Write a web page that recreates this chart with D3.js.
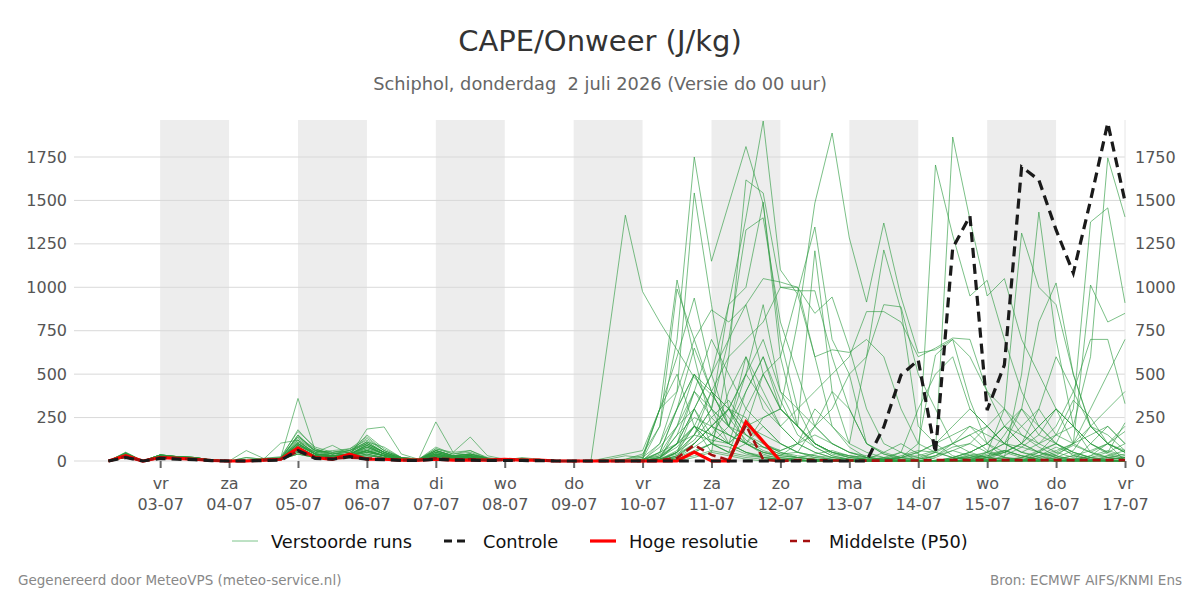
<!DOCTYPE html>
<html>
<head>
<meta charset="utf-8">
<script src="https://cdn.jsdelivr.net/npm/d3@7"></script>
<style>
  body { margin: 0; background: #fff; }
  svg { font-family: "DejaVu Sans", sans-serif; }
</style>
</head>
<body>
<div id="chart"></div>
<script>
// time axis: 6-hourly steps from 2 July 06 UTC
const startTime = Date.UTC(2026, 6, 2, 6);
const stepHours = 6;

const dayTicks = ["2026-07-03","2026-07-04","2026-07-05","2026-07-06","2026-07-07","2026-07-08","2026-07-09",
  "2026-07-10","2026-07-11","2026-07-12","2026-07-13","2026-07-14","2026-07-15","2026-07-16","2026-07-17"];
const dayNames = ["vr","za","zo","ma","di","wo","do","vr","za","zo","ma","di","wo","do","vr"];
const dayLabels = ["03-07","04-07","05-07","06-07","07-07","08-07","09-07","10-07","11-07","12-07","13-07","14-07","15-07","16-07","17-07"];
const shadedDays = [["2026-07-03","2026-07-04"],["2026-07-05","2026-07-06"],["2026-07-07","2026-07-08"],
  ["2026-07-09","2026-07-10"],["2026-07-11","2026-07-12"],["2026-07-13","2026-07-14"],["2026-07-15","2026-07-16"]];
const yTicks = [0, 250, 500, 750, 1000, 1250, 1500, 1750];

// control run
const controle = [0,20,0,15,10,8,2,0,0,3, 5,60,15,10,25,10,8,3,3,10, 5,5,3,3,3,2,0,0,0,0,
  0,0,0,0,0,0,0,0,0,0, 0,0,0,0,0,196,495,581,46,1226, 1410,293,553,1693,1618,1330,1082,1500,1946,1495];
// high resolution run (until 12-07)
const hogeResolutie = [0,30,0,20,15,10,3,0,0,5, 10,75,20,10,40,10,10,5,5,10, 5,5,5,10,5,5,0,0,0,0,
  0,0,0,0,52,0,0,225,112,0];
// median
const p50 = [0,25,0,20,15,10,3,0,0,5, 10,55,20,15,20,15,10,5,5,15, 10,10,5,5,5,5,0,0,0,0,
  0,0,5,17,92,35,5,207,8,0, 5,5,3,3,2,2,3,3,5,5, 5,5,5,5,5,5,5,5,5,5];

// perturbed members
const m01 = [0,40,0,30,20,15,5,0,0,10, 20,360,60,30,40,60,30,10,5,40, 20,30,10,5,10,5,0,0,0,700, 1415,975,800,640,480,380,250,120,60,30, 20,10,5,5,0,0,0,0,0,10, 30,20,10,5,0,0,10,5,0,0];
const m02 = [0,30,0,25,20,15,5,0,0,5, 10,120,40,25,30,80,40,10,5,30, 15,20,10,5,5,5,0,0,0,0, 10,40,200,700,1750,1150,1480,1810,1480,700, 300,100,40,20,10,0,0,0,20,60, 30,10,0,0,10,40,90,50,20,10];
const m03 = [0,50,0,35,25,20,5,0,0,10, 15,180,70,40,60,130,60,20,10,60, 30,40,15,5,10,5,0,0,0,0, 5,20,100,300,500,300,900,1400,1957,1100, 960,600,200,80,20,10,0,0,30,100, 150,60,20,0,0,20,60,200,150,60];
const m04 = [0,35,0,30,20,15,5,0,0,5, 10,150,50,30,30,100,50,15,5,50, 25,30,10,5,5,5,0,0,0,5, 10,30,300,400,1543,900,300,100,40,10, 5,0,0,0,10,50,100,40,10,0, 0,20,150,300,200,100,30,10,5,0];
const m05 = [0,25,0,30,20,15,5,0,0,5, 10,90,40,20,30,184,196,40,10,40, 20,30,10,5,5,5,0,0,0,0, 0,10,50,100,200,50,600,1618,1543,1000, 980,980,600,300,100,40,20,0,0,20, 50,100,200,150,80,30,0,0,10,20];
const m06 = [0,40,0,30,25,20,5,0,0,10, 10,110,50,90,40,150,70,20,10,225, 50,138,30,10,10,5,0,0,0,0, 0,0,20,150,400,300,700,1330,1400,800, 500,200,100,50,20,10,0,0,0,0, 10,40,60,30,10,0,0,30,100,60];
const m07 = [0,30,0,25,20,15,5,0,0,5, 10,70,30,20,25,50,30,10,5,30, 15,20,10,5,5,5,0,0,0,0, 0,5,80,200,300,500,900,1000,1490,600, 200,80,30,10,0,0,0,0,0,10, 20,10,0,0,0,10,30,10,0,0];
const m08 = [0,45,0,35,25,20,5,0,0,15, 20,140,70,40,60,100,50,15,5,70, 40,50,15,5,10,5,0,0,0,10, 30,20,300,600,938,500,200,400,600,350, 150,80,30,10,0,0,0,10,50,20, 0,0,30,80,150,300,200,100,40,10];
const m09 = [0,35,0,30,20,15,5,0,0,10, 15,100,40,30,40,80,40,10,5,40, 20,30,10,5,10,5,0,0,0,0, 0,10,30,100,300,150,100,200,250,300, 800,1485,1888,1284,915,1370,944,622,640,700, 350,100,50,20,10,0,0,0,10,20];
const m10 = [0,30,0,25,20,15,5,0,0,5, 10,80,30,20,30,60,30,10,5,30, 15,20,10,5,5,5,0,0,0,0, 0,0,10,50,120,250,350,200,500,600, 970,1347,700,500,100,40,10,0,0,0, 0,20,60,30,10,0,0,0,20,40];
const m11 = [0,40,0,30,20,15,5,0,0,5, 10,120,40,30,40,90,50,15,5,50, 25,30,10,5,5,5,0,0,0,0, 0,5,50,300,650,400,200,500,900,400, 200,1210,400,100,50,20,0,0,0,10, 40,20,10,0,0,0,10,30,60,30];
const m12 = [0,35,0,30,20,15,5,0,0,5, 10,90,40,30,30,70,30,10,5,40, 20,30,10,5,5,5,0,0,0,0, 0,0,20,100,200,150,300,250,100,60, 100,300,200,100,600,1215,870,200,100,30, 10,0,0,0,30,80,40,10,0,0];
const m13 = [0,30,0,25,20,15,5,0,0,5, 10,60,30,20,30,50,30,10,5,30, 15,20,10,5,5,5,0,0,0,0, 0,0,5,30,100,200,300,500,350,200, 300,400,500,600,860,860,800,600,650,708, 700,400,200,100,50,20,0,0,0,0];
const m14 = [0,45,0,35,25,20,5,0,0,10, 15,150,60,40,50,100,50,15,5,60, 30,40,15,5,10,5,0,0,0,0, 0,0,10,50,150,300,200,100,50,20, 10,0,0,0,0,20,50,0,1704,1300, 950,1040,700,400,200,100,50,20,0,0];
const m15 = [0,25,0,20,15,10,3,0,0,5, 10,50,20,15,20,40,20,5,5,20, 10,15,5,3,5,3,0,0,0,0, 0,0,5,20,60,100,200,150,80,40, 50,30,10,0,0,10,30,60,50,1865, 1390,950,1050,700,500,300,100,50,20,10];
const m16 = [0,40,0,30,25,20,5,0,20,10, 15,100,50,60,70,120,60,20,10,80, 40,60,15,5,20,10,0,0,0,0, 0,5,40,200,400,700,500,300,200,100, 50,200,400,300,100,50,20,10,30,80, 100,50,300,1312,1000,900,500,200,100,50];
const m17 = [0,35,0,30,20,15,5,0,0,10, 10,80,30,20,30,60,30,10,5,40, 20,30,10,5,5,5,0,0,0,0, 0,0,10,40,100,200,150,100,50,30, 20,10,0,0,0,10,20,50,100,150, 200,100,20,500,1433,700,200,50,100,200];
const m18 = [0,20,0,20,15,10,3,0,0,5, 10,40,20,15,20,30,20,5,5,20, 10,15,5,3,5,3,0,0,0,0, 0,0,0,10,50,100,80,40,20,10, 5,0,0,0,0,0,10,20,50,100, 200,150,100,300,800,1025,500,200,100,0];
const m19 = [0,45,0,35,25,20,5,0,0,10, 15,130,60,50,60,110,50,15,5,60, 30,40,15,5,10,5,0,0,0,0, 0,0,20,80,200,150,100,50,20,10, 5,0,0,0,0,10,20,50,100,200, 300,200,100,50,100,150,200,600,1745,1405];
const m20 = [0,30,0,25,20,15,5,0,0,5, 10,60,30,20,30,50,30,10,5,30, 15,20,10,5,5,5,0,0,0,0, 0,0,0,30,100,200,300,150,80,40, 20,10,0,0,0,0,0,0,0,20, 50,100,200,100,50,100,300,1376,1457,910];
const m21 = [0,35,0,30,20,15,5,0,0,10, 10,90,40,30,40,70,40,10,5,40, 20,30,10,5,5,5,0,0,0,0, 0,0,0,50,300,100,50,100,200,100, 50,20,10,0,0,0,0,0,0,0, 0,50,100,200,300,150,100,1013,800,850];
const m22 = [0,50,0,35,25,20,5,0,60,15, 25,170,80,50,70,140,60,20,10,70, 50,60,20,5,15,5,0,0,0,20, 40,60,300,1042,600,200,100,400,600,300, 200,100,50,20,10,0,0,0,0,20, 50,100,200,300,150,100,50,20,50,100];
const m23 = [0,30,0,25,20,15,5,0,0,5, 10,70,30,20,30,60,30,10,5,30, 15,20,10,5,5,5,0,0,0,0, 0,10,200,990,700,400,300,200,100,50, 20,10,0,0,0,10,20,30,60,100, 150,200,100,50,30,10,0,0,30,60];
const m24 = [0,40,0,30,20,15,5,0,0,10, 10,100,40,30,40,90,40,10,5,50, 25,30,10,5,5,5,0,0,0,0, 0,0,100,400,700,870,800,900,500,300, 200,100,50,20,10,0,0,0,0,10, 20,50,100,80,50,20,10,0,0,0];
const m25 = [0,35,0,30,20,15,5,0,0,5, 10,80,30,20,30,60,30,10,5,30, 15,20,10,5,5,5,0,0,0,0, 0,0,20,100,300,500,700,900,1050,1030, 1000,850,944,650,300,100,50,20,0,0, 0,10,50,100,200,300,200,100,50,20];
const m26 = [0,25,0,25,15,10,3,0,0,5, 10,50,20,15,20,40,20,5,5,20, 10,15,5,3,5,3,0,0,0,0, 0,0,50,300,500,400,600,700,800,1000, 1000,600,640,625,700,600,300,100,50,20, 10,0,0,0,20,50,100,200,300,400];
const m27 = [0,40,0,30,25,20,5,0,0,10, 15,110,50,40,50,100,50,15,5,60, 30,40,15,5,10,5,0,0,0,0, 0,0,30,150,250,200,150,100,80,60, 100,200,300,500,600,900,887,500,300,100, 50,20,10,0,0,30,100,300,500,700];
const m28 = [0,30,0,25,20,15,5,0,0,5, 10,60,30,20,30,50,30,10,5,30, 15,20,10,5,5,5,0,0,0,0, 0,0,5,50,150,300,100,50,20,10, 0,0,0,0,0,0,0,10,30,60, 100,200,300,150,100,200,400,700,700,330];
const m29 = [0,45,0,35,25,20,5,0,20,10, 103,120,60,50,60,110,80,20,10,60, 30,40,15,5,10,5,0,0,0,0, 0,0,10,100,400,250,150,100,250,300, 200,100,50,30,20,10,0,0,0,10, 20,30,50,100,200,300,200,100,50,220];
const m30 = [0,20,0,20,15,10,3,0,0,5, 10,40,20,15,20,30,20,5,5,20, 10,15,5,3,5,3,0,0,0,0, 0,0,0,50,200,100,400,600,300,200, 100,50,20,0,0,0,0,0,0,0, 10,20,50,100,300,600,400,200,100,50];
const m31 = [0,35,0,30,20,15,5,0,0,10, 15,90,40,30,40,80,40,10,5,40, 20,30,10,5,10,5,0,0,0,0, 0,0,0,20,100,200,300,500,700,400, 300,200,100,50,30,20,10,0,0,0, 0,10,20,10,0,0,10,20,30,20];
const m32 = [0,30,0,25,20,15,5,0,0,5, 10,70,30,20,30,60,30,10,5,30, 15,20,10,5,5,5,0,0,0,0, 0,0,0,10,50,100,50,30,20,10, 20,40,60,30,20,10,5,0,0,0, 0,0,10,20,50,30,10,0,0,0];
const m33 = [0,40,0,30,20,15,5,0,0,10, 10,100,40,30,40,90,40,10,5,50, 25,30,10,5,5,5,0,0,0,0, 0,0,0,30,150,400,200,100,50,30, 100,150,100,50,20,10,0,0,0,0, 0,0,0,0,50,150,350,250,100,50];
const m34 = [0,25,0,25,15,10,3,0,0,5, 10,50,20,15,20,40,20,5,5,20, 10,15,5,3,5,3,0,0,0,0, 0,0,10,200,500,300,200,600,400,200, 100,50,20,10,0,0,0,0,0,0, 0,0,0,10,30,60,100,150,200,100];
const m35 = [0,35,0,30,20,15,5,0,0,5, 10,80,30,20,30,60,30,10,5,30, 15,20,10,5,5,5,0,0,0,0, 0,0,0,20,80,150,100,50,30,20, 10,0,0,0,0,0,20,100,610,700, 600,400,300,200,100,50,20,0,0,0];
const m36 = [0,45,0,35,25,20,5,0,0,10, 15,140,60,40,50,110,50,15,5,60, 30,40,15,5,10,5,0,0,0,0, 0,0,20,100,150,120,100,200,150,100, 50,30,20,10,0,10,50,300,500,600, 300,200,100,50,20,10,0,100,200,100];
const m37 = [0,30,0,25,20,15,5,0,0,5, 10,70,30,20,30,60,30,10,5,30, 15,20,10,5,5,5,0,0,0,0, 0,0,0,10,30,60,40,20,10,5, 0,0,0,0,0,0,0,0,0,0, 0,0,0,0,0,0,0,0,0,0];
const m38 = [0,40,0,30,20,15,5,0,10,10, 10,100,40,30,40,90,40,10,5,50, 25,30,10,5,5,5,0,0,0,0, 0,10,300,500,200,100,50,300,500,300, 200,100,50,30,10,0,0,0,0,10, 30,50,20,10,0,10,30,60,100,170];
const m39 = [0,20,0,20,15,10,3,0,0,5, 10,40,20,15,20,30,20,5,5,20, 10,15,5,3,5,3,0,0,0,0, 0,0,0,0,20,50,30,10,0,0, 0,0,0,0,0,0,0,0,0,0, 10,30,60,30,10,0,0,10,20,10];
const m40 = [0,35,0,30,20,15,5,0,0,10, 15,100,40,30,40,80,40,10,5,40, 20,30,10,5,10,5,0,0,0,0, 0,0,10,60,200,400,300,150,100,50, 30,20,10,0,0,0,0,0,0,0, 0,0,0,20,60,100,50,20,10,5];

const members = [m01,m02,m03,m04,m05,m06,m07,m08,m09,m10,m11,m12,m13,m14,m15,m16,m17,m18,m19,m20,
  m21,m22,m23,m24,m25,m26,m27,m28,m29,m30,m31,m32,m33,m34,m35,m36,m37,m38,m39,m40];

const width = 1200, height = 600;
const margin = {top: 120, right: 75, bottom: 139, left: 74};

const svg = d3.select("#chart").append("svg")
  .attr("width", width)
  .attr("height", height);

const tAt = i => new Date(startTime + i * stepHours * 3600 * 1000);
const parse = s => new Date(s + "T00:00:00Z");

const x = d3.scaleUtc()
  .domain([new Date(Date.UTC(2026, 6, 1, 18)), parse("2026-07-17")])
  .range([margin.left, width - margin.right]);
const y = d3.scaleLinear()
  .domain([0, 1963])
  .range([height - margin.bottom, margin.top]);

// alternating day shading
svg.append("g").selectAll("rect")
  .data(shadedDays)
  .enter().append("rect")
    .attr("x", d => x(parse(d[0])))
    .attr("width", d => x(parse(d[1])) - x(parse(d[0])))
    .attr("y", margin.top)
    .attr("height", y(0) - margin.top)
    .attr("fill", "#ededed");

// horizontal grid
svg.append("g").selectAll("line")
  .data(yTicks)
  .enter().append("line")
    .attr("x1", margin.left)
    .attr("x2", width - margin.right)
    .attr("y1", d => y(d))
    .attr("y2", d => y(d))
    .attr("stroke", "#d9d9d9")
    .attr("stroke-width", 1);

svg.append("line")
  .attr("x1", width - margin.right).attr("x2", width - margin.right)
  .attr("y1", margin.top).attr("y2", y(0))
  .attr("stroke", "#e6e6e6");

// y axes left and right
const yLeft = svg.append("g")
  .attr("transform", `translate(${margin.left},0)`)
  .call(d3.axisLeft(y).tickValues(yTicks).tickFormat(d3.format("d")).tickSize(0).tickPadding(7));
const yRight = svg.append("g")
  .attr("transform", `translate(${width - margin.right},0)`)
  .call(d3.axisRight(y).tickValues(yTicks).tickFormat(d3.format("d")).tickSize(0).tickPadding(10));
[yLeft, yRight].forEach(g => {
  g.select(".domain").remove();
  g.selectAll("text").attr("font-size", 16).attr("fill", "#555").attr("font-family", "DejaVu Sans");
});

// x axis
const xAxis = svg.append("g")
  .attr("transform", `translate(0,${y(0)})`)
  .call(d3.axisBottom(x).tickValues(dayTicks.map(parse)).tickSize(7).tickFormat(""));
xAxis.select(".domain").remove();
xAxis.selectAll(".tick line").attr("stroke", "#666").attr("stroke-width", 2);
xAxis.selectAll(".tick").append("text")
  .attr("y", 28).attr("text-anchor", "middle")
  .attr("font-size", 16).attr("fill", "#555").attr("font-family", "DejaVu Sans")
  .text((d, i) => dayNames[i]);
xAxis.selectAll(".tick").append("text")
  .attr("y", 49).attr("text-anchor", "middle")
  .attr("font-size", 16).attr("fill", "#555").attr("font-family", "DejaVu Sans")
  .text((d, i) => dayLabels[i]);

const line = d3.line()
  .x((d, i) => x(tAt(i)))
  .y(d => y(d));

// ensemble
svg.append("g").selectAll("path")
  .data(members)
  .enter().append("path")
    .attr("d", line)
    .attr("fill", "none")
    .attr("stroke", "#2a9a3e")
    .attr("stroke-opacity", 0.62)
    .attr("stroke-width", 1);

svg.append("path").attr("d", line(hogeResolutie))
  .attr("fill", "none").attr("stroke", "#ff0000").attr("stroke-width", 3.2);
svg.append("path").attr("d", line(p50))
  .attr("fill", "none").attr("stroke", "#a50f0f").attr("stroke-width", 2.6)
  .attr("stroke-dasharray", "8,5");
svg.append("path").attr("d", line(controle))
  .attr("fill", "none").attr("stroke", "#1a1a1a").attr("stroke-width", 3.2)
  .attr("stroke-dasharray", "10,6");

// titles
svg.append("text").attr("x", 600).attr("y", 51).attr("text-anchor", "middle")
  .attr("font-size", 29).attr("fill", "#333").text("CAPE/Onweer (J/kg)");
svg.append("text").attr("x", 600).attr("y", 90).attr("text-anchor", "middle")
  .attr("font-size", 17.8).attr("fill", "#666").style("white-space", "pre")
  .text("Schiphol, donderdag  2 juli 2026 (Versie do 00 uur)");

// legend
const legendItems = [
  {label: "Verstoorde runs", color: "#7cc48a", w: 1, dash: null, x: 232},
  {label: "Controle", color: "#1a1a1a", w: 3.2, dash: "8,5", x: 444},
  {label: "Hoge resolutie", color: "#ff0000", w: 3.2, dash: null, x: 590},
  {label: "Middelste (P50)", color: "#a50f0f", w: 2.6, dash: "7,6", x: 790}
];
const leg = svg.append("g").selectAll("g").data(legendItems).enter().append("g")
  .attr("transform", d => `translate(${d.x},541)`);
leg.append("line").attr("x1", 0).attr("x2", 26)
  .attr("stroke", d => d.color).attr("stroke-width", d => d.w)
  .attr("stroke-dasharray", d => d.dash);
leg.append("text").attr("x", 39).attr("y", 6.5)
  .attr("font-size", 17.8).attr("fill", "#111")
  .text(d => d.label);

// footer
svg.append("text").attr("x", 18).attr("y", 585).attr("font-size", 13.5).attr("fill", "#888")
  .text("Gegenereerd door MeteoVPS (meteo-service.nl)");
svg.append("text").attr("x", 1182).attr("y", 585).attr("text-anchor", "end")
  .attr("font-size", 13.5).attr("fill", "#888")
  .text("Bron: ECMWF AIFS/KNMI Ens");
</script>
</body>
</html>
